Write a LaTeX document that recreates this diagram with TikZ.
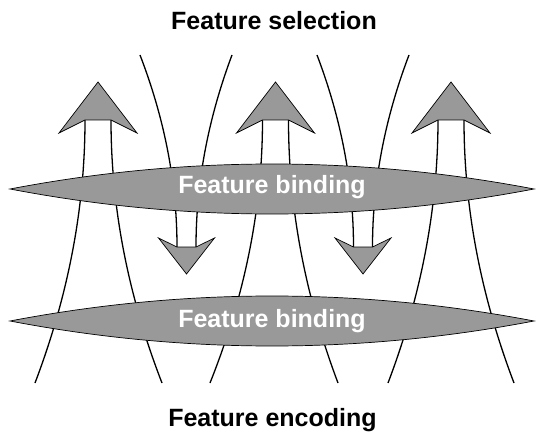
\documentclass[tikz,border=0pt]{standalone}
\usepackage{fontspec}
\setmainfont{Liberation Sans}
\definecolor{lensgray}{RGB}{153,153,153}
\begin{document}
\begin{tikzpicture}[x=1pt,y=-1pt,
  fieldline/.style={line width=1.3pt,black},
  lensshape/.style={fill=lensgray,draw=black,line width=0.7pt},
  headshape/.style={fill=lensgray,draw=black,line width=0.7pt,line join=miter},
  lenstext/.style={text=white,font=\bfseries\fontsize{25}{28}\selectfont,anchor=base,inner sep=0pt},
  titletext/.style={text=black,font=\bfseries\fontsize{25}{28}\selectfont,anchor=base,inner sep=0pt}]
\useasboundingbox (0,0) rectangle (536,433);
% field lines from the up arrows (diverging downwards)
\draw[fieldline] (85,120) .. controls (85,207.67) and (68.33,295.33) .. (35,383);
\draw[fieldline] (111,120) .. controls (111,207.67) and (128,295.33) .. (162,383);
\draw[fieldline] (262.5,120) .. controls (262.5,207.67) and (245,295.33) .. (210,383);
\draw[fieldline] (288.5,120) .. controls (288.5,207.67) and (305,295.33) .. (338,383);
\draw[fieldline] (438,120) .. controls (438,207.67) and (421.33,295.33) .. (388,383);
\draw[fieldline] (464,120) .. controls (464,207.67) and (480.67,295.33) .. (514,383);
% field lines converging into the down arrows
\draw[fieldline] (140,55) .. controls (164.67,119) and (177,183) .. (177,247);
\draw[fieldline] (232,55) .. controls (208,119) and (196,183) .. (196,247);
\draw[fieldline] (317,55) .. controls (341.33,119) and (353.5,183) .. (353.5,247);
\draw[fieldline] (409,55) .. controls (384.67,119) and (372.5,183) .. (372.5,247);
% lenses
\draw[lensshape] (10,189) .. controls (184.67,155.67) and (359.33,155.67) .. (534,189)
  .. controls (359.33,222.33) and (184.67,222.33) .. cycle;
\draw[lensshape] (10,321) .. controls (184.67,287.67) and (359.33,287.67) .. (534,321)
  .. controls (359.33,354.33) and (184.67,354.33) .. cycle;
% up arrow heads
\draw[headshape] (98,82) -- (137,133) -- (111,120) -- (85,120) -- (59,133) -- cycle;
\draw[headshape] (275.5,82) -- (314.5,133) -- (288.5,120) -- (262.5,120) -- (236.5,133) -- cycle;
\draw[headshape] (451,82) -- (490,133) -- (464,120) -- (438,120) -- (412,133) -- cycle;
% down arrow heads
\draw[headshape] (186.5,274) -- (214.5,238) -- (196,247) -- (177,247) -- (158.5,238) -- cycle;
\draw[headshape] (363,274) -- (391,238) -- (372.5,247) -- (353.5,247) -- (335,238) -- cycle;
% texts
\node[lenstext] (bindtop) at (272,194) {Feature binding};
\node[lenstext] (bindbot) at (272,327) {Feature binding};
\node[titletext] (sel) at (274,30) {Feature selection};
\node[titletext] (enc) at (272.5,426) {Feature encoding};
\end{tikzpicture}
\end{document}
